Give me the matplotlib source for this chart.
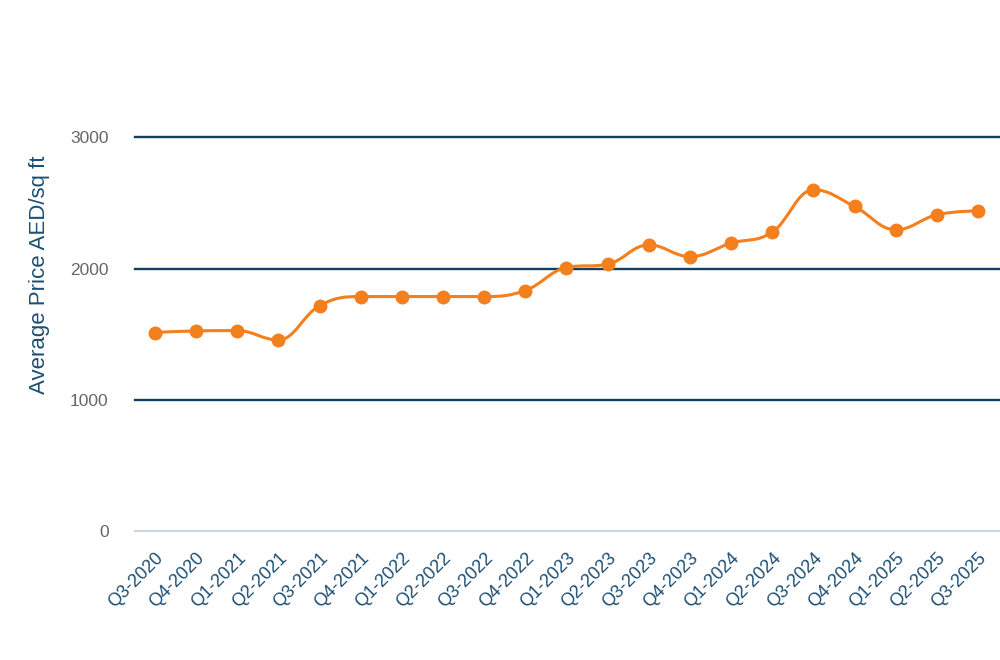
import matplotlib
matplotlib.use("Agg")
import matplotlib.pyplot as plt
from matplotlib.path import Path
from matplotlib.patches import PathPatch
import numpy as np

plt.rcParams['font.family'] = ['Liberation Sans', 'DejaVu Sans']

quarters = ['Q3-2020', 'Q4-2020', 'Q1-2021', 'Q2-2021', 'Q3-2021', 'Q4-2021',
            'Q1-2022', 'Q2-2022', 'Q3-2022', 'Q4-2022', 'Q1-2023', 'Q2-2023',
            'Q3-2023', 'Q4-2023', 'Q1-2024', 'Q2-2024', 'Q3-2024', 'Q4-2024',
            'Q1-2025', 'Q2-2025', 'Q3-2025']
avg_price = [1513, 1526, 1528, 1457, 1718, 1787, 1787, 1787, 1787, 1833,
             2008, 2033, 2180, 2091, 2193, 2277, 2599, 2472, 2295, 2409, 2439]
y_ticks = [0, 1000, 2000, 3000]

line_color = '#f47f1d'
grid_color = '#123f5e'
text_blue = '#1d4f73'


def spline_path(xs, ys, smoothing=1.5):
    # highcharts-style spline: bezier control points from neighbours
    n = len(xs)
    left = [(xs[i], ys[i]) for i in range(n)]
    right = [(xs[i], ys[i]) for i in range(n)]
    denom = smoothing + 1
    for i in range(1, n - 1):
        px, py = xs[i], ys[i]
        lx, ly = xs[i - 1], ys[i - 1]
        nx, ny = xs[i + 1], ys[i + 1]
        lcx = (smoothing * px + lx) / denom
        lcy = (smoothing * py + ly) / denom
        rcx = (smoothing * px + nx) / denom
        rcy = (smoothing * py + ny) / denom
        if rcx != lcx:
            corr = (rcy - lcy) * (rcx - px) / (rcx - lcx) + py - rcy
            lcy += corr
            rcy += corr
            if lcy > ly and lcy > py:
                lcy = max(ly, py); rcy = 2 * py - lcy
            elif lcy < ly and lcy < py:
                lcy = min(ly, py); rcy = 2 * py - lcy
            if rcy > ny and rcy > py:
                rcy = max(ny, py); lcy = 2 * py - rcy
            elif rcy < ny and rcy < py:
                rcy = min(ny, py); lcy = 2 * py - rcy
        left[i] = (lcx, lcy)
        right[i] = (rcx, rcy)
    verts = [(xs[0], ys[0])]
    codes = [Path.MOVETO]
    for i in range(1, n):
        verts += [right[i - 1], left[i], (xs[i], ys[i])]
        codes += [Path.CURVE4] * 3
    return Path(verts, codes)


x = np.arange(len(quarters))

fig = plt.figure(figsize=(10, 6.6), dpi=100)
ax = fig.add_axes([0.135, 0.1947, 0.865, 0.5976])

for t in y_ticks[1:]:
    ax.axhline(t, color=grid_color, lw=1.7, zorder=1, clip_on=False)
ax.axhline(0, color='#ccd6eb', lw=1.5, zorder=1, clip_on=False)

ax.add_patch(PathPatch(spline_path(x, avg_price), fill=False,
                       edgecolor=line_color, lw=2.2, zorder=3))
ax.plot(x, avg_price, 'o', color=line_color, ms=9, zorder=4)

ax.set_xlim(-0.486, 20.535)
ax.set_ylim(0, 3000)
ax.set_yticks(y_ticks)
ax.set_yticklabels([str(t) for t in y_ticks], color='#666666', fontsize=12.5)
ax.set_xticks(x)
ax.set_xticklabels(quarters, rotation=45, ha='right', va='top',
                   rotation_mode='anchor', color=text_blue, fontsize=13)
ax.tick_params(axis='both', length=0)
ax.tick_params(axis='y', pad=19)
ax.tick_params(axis='x', pad=13)
for s in ax.spines.values():
    s.set_visible(False)

ax.set_ylabel('Average Price AED/sq ft', color=text_blue, fontsize=16)
ax.yaxis.set_label_coords(-0.098, 0.65)

fig.savefig('out.png', dpi=100)
